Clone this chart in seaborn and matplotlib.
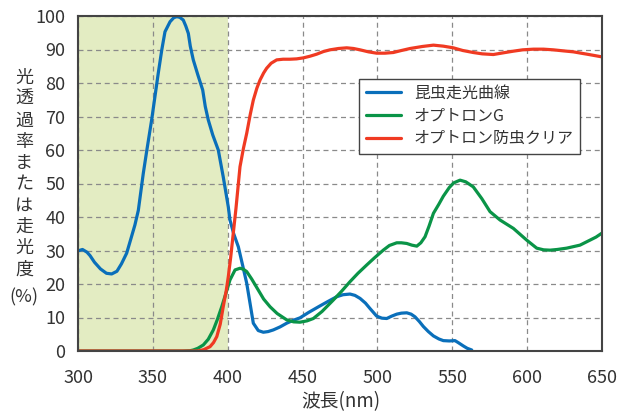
import pandas as pd
import seaborn as sns
import matplotlib.pyplot as plt

# spectral curves
insect_x = [300, 303, 306, 308, 311, 315, 319, 322.5, 326, 329, 332.5, 335, 338, 340.3, 343.6, 346,
            349.2, 353.6, 356, 358.1, 361.5, 364, 366, 368, 370.3, 372, 373.7, 375, 377, 380, 383.3,
            385, 387, 390, 393.7, 397, 400.4, 401.5, 404, 407.1, 410, 412.7, 415, 417.1, 420.4,
            423.8, 427, 430.5, 435, 439.4, 444, 448.3, 454, 461, 467, 472.8, 477, 481.7, 485, 488.4,
            492, 495, 499.5, 503, 506.2, 509.5, 512.9, 516, 519.6, 522.5, 525.1, 528, 530.7, 534,
            537.4, 541, 544, 548, 551.8, 554, 557.4, 560, 563]
insect_y = [29.9, 30.3, 29.5, 28.5, 26.5, 24.5, 23.2, 23, 23.8, 26, 29.2, 33, 37.6, 42, 53, 60,
            69, 82.9, 90, 95.3, 98.3, 99.5, 99.8, 99.6, 98.8, 97, 94.8, 91, 86.9, 82.5, 77.9,
            73, 69, 64.5, 60, 52, 43, 39.1, 35, 31.1, 25.5, 20.2, 14, 8.3, 6.1,
            5.6, 5.8, 6.3, 7.2, 8.3, 9.2, 9.9, 11.5, 13.3, 14.8, 16.2, 16.8, 17, 16.6, 15.7,
            14.3, 12.7, 10.4, 9.8, 9.7, 10.4, 11, 11.3, 11.4, 11.0, 10.2, 8.8, 7.3, 5.8,
            4.5, 3.6, 3.1, 3.0, 3.1, 2.5, 1.5, 0.8, 0.3]

g_x = [300, 370, 375, 377, 380, 383.7, 387, 390.4, 393, 396, 399, 401.5, 404.9, 408.2, 410.5,
       412.7, 416, 420.4, 424, 428.3, 433, 439.4, 444, 448.3, 453, 457.2, 463, 470.5, 476, 481.7,
       487, 492.9, 498, 503.9, 508, 512.9, 516, 519.6, 523, 526.3, 529, 531.8, 534.5, 537.4, 541,
       544, 548, 551, 555.2, 559, 564, 569.7, 575.2, 581.9, 590.8, 599.7, 606.4, 611, 615.3, 620,
       626.4, 635.3, 642, 646, 650]
g_y = [0, 0, 0.1, 0.3, 0.8, 1.8, 3.5, 6.3, 9.3, 13.2, 17.5, 21.2, 24.2, 24.7, 24.4,
       23.7, 21.5, 18.2, 15.5, 13.2, 11.2, 9.3, 8.7, 8.6, 9.0, 9.7, 11.8, 15.2, 17.8, 20.7,
       23.2, 25.7, 27.8, 30.1, 31.5, 32.3, 32.3, 32.1, 31.6, 31.3, 32.3, 34.1, 37.3, 41.1, 43.8,
       46.2, 48.8, 50.2, 51, 50.5, 49, 45.5, 41.6, 39.1, 36.6, 33.1, 30.7, 30.2, 30.1, 30.3,
       30.7, 31.6, 33.1, 34.0, 35.2]

clear_x = [300, 380, 384, 388.2, 390.5, 392.7, 395, 397, 399, 400.4, 402, 403.7, 405.5, 408.2,
           410.5, 412.7, 415, 417.1, 419.5, 421.6, 424, 426, 429, 432.7, 437, 441.6, 446, 450.5,
           455, 459.4, 464, 468.3, 474, 479.5, 484, 488.4, 494, 499.5, 505, 510.6, 516, 521.8,
           530, 537.4, 544, 550.7, 557, 564, 570, 577.4, 584, 590.8, 597, 604.2, 611, 617.5, 624,
           630.9, 636, 640, 645, 648.7, 650]
clear_y = [0, 0, 0.4, 1.3, 2.5, 4.3, 8, 13.2, 18, 22.2, 28, 35.1, 42.5, 55,
           60.5, 65, 70.5, 74.9, 78.5, 80.9, 83, 84.4, 85.9, 86.9, 87.1, 87.1, 87.2, 87.5,
           88, 88.6, 89.4, 89.9, 90.3, 90.5, 90.3, 89.9, 89.3, 88.9, 88.9, 89.1, 89.7, 90.3,
           90.9, 91.3, 91.0, 90.5, 89.7, 89.1, 88.7, 88.5, 89.0, 89.5, 89.9, 90.1, 90.1, 89.9, 89.6,
           89.3, 88.9, 88.6, 88.2, 87.9, 87.8]

series_names = ['昆虫走光曲線', 'オプトロンG', 'オプトロン防虫クリア']
series_colors = ['#0a6fba', '#0a9447', '#f03a22']
x_ticks = [300, 350, 400, 450, 500, 550, 600, 650]
y_ticks = [0, 10, 20, 30, 40, 50, 60, 70, 80, 90, 100]
y_title = '光透過率または走光度'

df = pd.concat([
    pd.DataFrame({'wl': insect_x, 'val': insect_y, 'series': series_names[0]}),
    pd.DataFrame({'wl': g_x, 'val': g_y, 'series': series_names[1]}),
    pd.DataFrame({'wl': clear_x, 'val': clear_y, 'series': series_names[2]}),
])

sns.set_style('white')
plt.rcParams['font.family'] = ['Noto Sans CJK JP', 'DejaVu Sans']

W, H = 622, 418
fig = plt.figure(figsize=(W / 100, H / 100), dpi=100)
ax = fig.add_axes([78 / W, 1 - 351 / H, 524 / W, 335 / H])

# shaded UV band
ax.axvspan(300, 400, color='#e3ecc2', zorder=0, lw=0)

sns.lineplot(data=df, x='wl', y='val', hue='series', hue_order=series_names,
             palette=series_colors, estimator=None, sort=False, linewidth=2.3, ax=ax)

ax.set_xlim(300, 650)
ax.set_ylim(0, 100)
ax.set_xticks(x_ticks)
ax.set_yticks(y_ticks)
ax.grid(True, color='#8a8a8a', linestyle=(0, (4, 3)), linewidth=0.9)
ax.set_axisbelow(True)
ax.tick_params(axis='x', direction='in', length=10, width=1.3, color='#444444',
               labelsize=13, pad=13, labelcolor='#333333')
ax.tick_params(axis='y', length=0, labelsize=13, pad=9, labelcolor='#333333')
for s in ax.spines.values():
    s.set_color('#444444')
    s.set_linewidth(1.5)
ax.set_xlabel('')
ax.set_ylabel('')

handles, labels = ax.get_legend_handles_labels()
ax.legend(handles, labels, loc='upper left', bbox_to_anchor=(0.537, 0.813),
          borderaxespad=0, fontsize=11.5, frameon=True, fancybox=False,
          edgecolor='#444444', framealpha=1, handlelength=2.2, borderpad=0.4,
          labelspacing=0.35, title=None)
for t in ax.get_legend().get_texts():
    t.set_color('#333333')

fig.text(341 / W, 1 - 402 / H, '波長(nm)', ha='center', va='center', fontsize=13.5, color='#333333')

# vertical y title, one character per line
for i, ch in enumerate(y_title):
    fig.text(24 / W, 1 - (78 + i * 21.3) / H, ch, ha='center', va='center',
             fontsize=13, color='#333333')
fig.text(24 / W, 1 - 297 / H, '(%)', ha='center', va='center', fontsize=13, color='#333333')

fig.savefig('out.png', dpi=100)
